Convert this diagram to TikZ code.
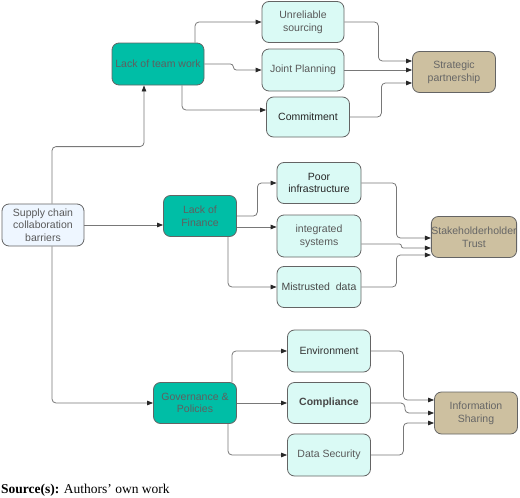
\documentclass[tikz,border=0pt]{standalone}
\usepackage{fontspec}
\setmainfont{Liberation Sans}
\newfontfamily\srcfont{Liberation Serif}
\usetikzlibrary{arrows.meta,calc}
\definecolor{teal1}{RGB}{0,190,166}
\definecolor{cyan1}{RGB}{218,250,245}
\definecolor{blue1}{RGB}{238,246,255}
\definecolor{tan1}{RGB}{205,192,160}
\definecolor{bord}{RGB}{100,100,100}
\definecolor{lin}{RGB}{120,120,120}
\definecolor{tip}{RGB}{40,40,40}
\definecolor{tealtext}{RGB}{95,95,95}
\tikzset{
  box/.style={draw=bord, line width=0.8pt, rounded corners=7pt, align=center,
    inner sep=0pt, font=\fontsize{10.5}{12.7}\selectfont, text=black!65},
  tealbox/.style={box, fill=teal1, text=tealtext},
  cyanbox/.style={box, fill=cyan1},
  bluebox/.style={box, fill=blue1},
  tanbox/.style={box, fill=tan1, text=black!60},
  conn/.style={draw=lin, line width=0.8pt, rounded corners=4pt,
    -{Triangle[length=6pt,width=4.5pt,fill=tip,color=tip]}},
}
\begin{document}
\begin{tikzpicture}[x=1pt,y=-1pt]
\useasboundingbox (0,0) rectangle (520,498);
% nodes
\node[bluebox, minimum width=82pt, minimum height=42pt] (sc) at (43,225) {Supply chain\\collaboration\\barriers};
\node[tealbox, minimum width=92pt, minimum height=42pt] (tw) at (158,64) {Lack of team work};
\node[cyanbox, minimum width=82pt, minimum height=41pt] (ur) at (303,22) {Unreliable\\sourcing};
\node[cyanbox, minimum width=82pt, minimum height=42pt] (jp) at (303,70) {Joint Planning};
\node[cyanbox, minimum width=83pt, minimum height=40pt, text=black!85] (cm) at (308,117) {Commitment};
\node[tanbox, minimum width=83pt, minimum height=41pt] (sp) at (454,72) {Strategic\\partnership};
\node[tealbox, minimum width=73pt, minimum height=41pt] (lf) at (200,216) {Lack of\\Finance};
\node[cyanbox, minimum width=84pt, minimum height=41pt, text=black!85] (pi) at (319,183) {Poor\\infrastructure};
\node[cyanbox, minimum width=84pt, minimum height=42pt] (is) at (319,236) {integrated\\systems};
\node[cyanbox, minimum width=84pt, minimum height=41pt, text=black!72] (md) at (319,287) {Mistrusted\ \ data};
\node[tanbox, minimum width=84pt, minimum height=41pt] (st) at (474,237) {Stakeholderholder\\Trust};
\node[tealbox, minimum width=83pt, minimum height=41pt] (gp) at (195,403) {Governance \&\\Policies};
\node[cyanbox, minimum width=83pt, minimum height=42pt, text=black!80] (en) at (329,351) {Environment};
\node[cyanbox, minimum width=83pt, minimum height=41pt, text=black!72, font=\fontsize{10.5}{12.7}\selectfont\bfseries] (co) at (329,403) {Compliance};
\node[cyanbox, minimum width=83pt, minimum height=42pt] (ds) at (329,455) {Data Security};
\node[tanbox, minimum width=83pt, minimum height=42pt] (ins) at (476,413) {Information\\Sharing};
\node[anchor=west, inner sep=0pt, font=\srcfont\fontsize{13.5}{16}\selectfont] (src) at (1,490) {\textbf{Source(s):} Authors’ own work};
% connectors from root
\draw[conn] ([xshift=9pt]sc.north) -- ++(0,-57) -| ([xshift=-14pt]tw.south);
\draw[conn] (sc.east) -- (sc.east -| lf.west);
\draw[conn] ([xshift=9pt]sc.south) |- (gp.west);
% team work
\draw[conn] ([xshift=37pt]tw.north) |- (ur.west);
\draw[conn, rounded corners=3pt] (tw.east) -- ++(29,0) -- ++(0,6) -- (jp.west);
\draw[conn] ([xshift=24pt]tw.south) |- ([yshift=7pt]cm.west);
\draw[conn] (ur.east) -- ++(34,0) |- ([yshift=11pt]sp.west);
\draw[conn] (jp.east) -- (jp.east -| sp.west);
\draw[conn] (cm.east) -- ++(31.5,0) |- ([yshift=-11pt]sp.west);
% finance
\draw[conn] (lf.east) -- ++(20.5,0) |- (pi.west);
\draw[conn] ([yshift=-11pt]lf.east) -- ([yshift=-11pt]lf.east -| is.west);
\draw[conn] ([xshift=28pt]lf.south) |- (md.west);
\draw[conn] (pi.east) -- ++(35,0) |- ([yshift=-1pt]st.west);
\draw[conn, rounded corners=2pt] ([yshift=-8pt]is.east) -- ++(40,0) -- ++(0,4) -- ([yshift=-11pt]st.west);
\draw[conn] (md.east) -- ++(35,0) |- ([yshift=-18pt]st.west);
% governance
\draw[conn] ([xshift=37pt]gp.north) |- (en.west);
\draw[conn] (gp.east) -- (co.west);
\draw[conn] ([xshift=33pt]gp.south) |- (ds.west);
\draw[conn] (en.east) -- ++(32.5,0) |- ([yshift=13pt]ins.west);
\draw[conn] (co.east) -- ++(34,0) -- ++(0,10) -- (ins.west);
\draw[conn] (ds.east) -- ++(32.5,0) |- ([yshift=-10pt]ins.west);
\end{tikzpicture}
\end{document}
